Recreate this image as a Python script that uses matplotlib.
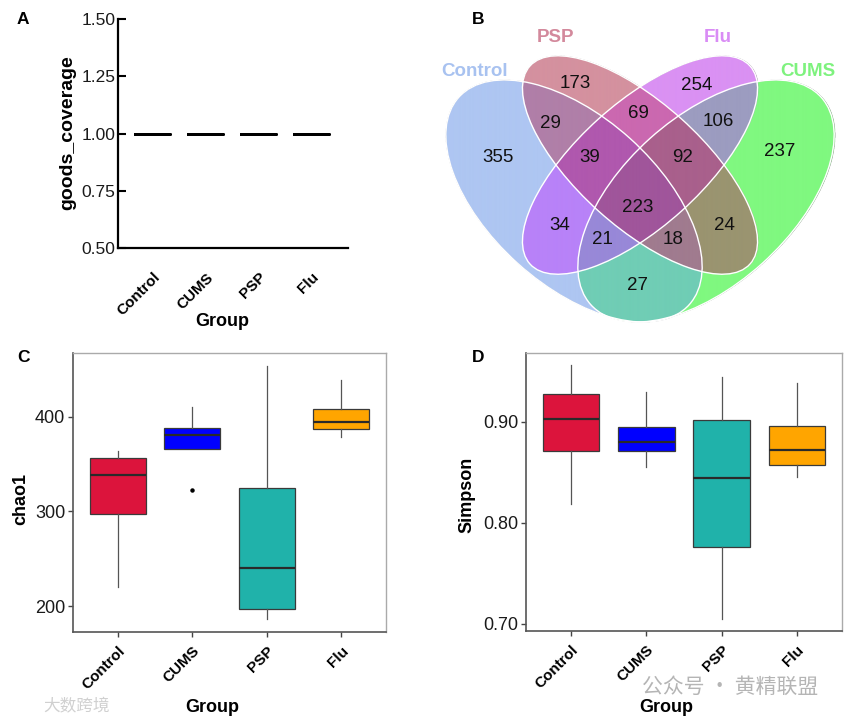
import numpy as np
import matplotlib
matplotlib.use("Agg")
import matplotlib.pyplot as plt
from matplotlib.patches import Ellipse

plt.rcParams['font.family'] = ['Liberation Sans', 'DejaVu Sans']

# ---------------- data ----------------
groups = ["Control", "CUMS", "PSP", "Flu"]
box_colors = ["#DC143C", "#0000FF", "#20B2AA", "#FFA500"]

goods_coverage = [1.0, 1.0, 1.0, 1.0]
goods_ticks = [0.50, 0.75, 1.00, 1.25, 1.50]

# chao1 box statistics (Control, CUMS, PSP, Flu)
chao1_whislo = [219.8, 365.8, 186.0, 378.8]
chao1_q1 = [297.7, 365.8, 197.2, 387.0]
chao1_med = [339.0, 381.0, 240.7, 394.4]
chao1_q3 = [356.6, 388.7, 324.5, 408.0]
chao1_whishi = [364.3, 410.9, 454.0, 439.0]
chao1_fliers = [[], [323.0], [], []]
chao1_ticks = [200, 300, 400]

# Simpson box statistics
simp_whislo = [0.819, 0.855, 0.7053, 0.8455]
simp_q1 = [0.871, 0.871, 0.776, 0.8568]
simp_med = [0.9027, 0.880, 0.844, 0.8717]
simp_q3 = [0.9274, 0.895, 0.9013, 0.896]
simp_whishi = [0.956, 0.929, 0.9445, 0.9386]
simp_fliers = [[], [], [], []]
simp_ticks = [0.70, 0.80, 0.90]

# Venn counts; keys = membership (Control, PSP, Flu, CUMS)
venn_sets = ["Control", "PSP", "Flu", "CUMS"]
venn_counts = {
    (1, 0, 0, 0): 355, (0, 1, 0, 0): 173, (0, 0, 1, 0): 254, (0, 0, 0, 1): 237,
    (1, 1, 0, 0): 29, (0, 1, 1, 0): 69, (0, 0, 1, 1): 106, (1, 0, 1, 0): 34,
    (0, 1, 0, 1): 24, (1, 0, 0, 1): 27, (1, 1, 1, 0): 39, (0, 1, 1, 1): 92,
    (1, 0, 1, 1): 21, (1, 1, 0, 1): 18, (1, 1, 1, 1): 223,
}

# ---------------- layout helpers ----------------
W, H = 851, 723
fig = plt.figure(figsize=(W / 100, H / 100), dpi=100)


def px_axes(x0, y0, x1, y1):
    return fig.add_axes([x0 / W, 1 - y1 / H, (x1 - x0) / W, (y1 - y0) / H])


def ftext(x, y, s, **kw):
    return fig.text(x / W, 1 - y / H, s, **kw)


# ---------------- Panel A ----------------
axA = px_axes(118, 19, 348, 248)
statsA = [dict(med=v, q1=v, q3=v, whislo=v, whishi=v, fliers=[]) for v in goods_coverage]
axA.bxp(statsA, positions=range(4), widths=0.66, showcaps=False, showfliers=False,
        boxprops=dict(color='black', linewidth=2),
        medianprops=dict(color='black', linewidth=2),
        whiskerprops=dict(color='black', linewidth=2))
axA.set_xlim(-0.66, 3.68)
axA.set_ylim(0.5, 1.5)
axA.set_yticks(goods_ticks)
axA.set_yticklabels([f"{t:.2f}" for t in goods_ticks], fontsize=12.5, color='#1a1a1a')
axA.set_xticks(range(4))
axA.set_xticklabels(groups, rotation=45, ha='right', va='top', rotation_mode='anchor',
                    fontsize=11, fontweight='bold')
axA.tick_params(axis='y', direction='in', length=6, width=1.5, pad=2)
axA.tick_params(axis='x', length=0, pad=16)
for s in ['top', 'right']:
    axA.spines[s].set_visible(False)
for s in ['left', 'bottom']:
    axA.spines[s].set_linewidth(1.6)
    axA.spines[s].set_color('black')
ftext(68, 133, "goods_coverage", rotation=90, ha='center', va='center', fontsize=14, fontweight='bold')
ftext(222, 322, "Group", ha='center', va='center', fontsize=13, fontweight='bold')
ftext(23, 19, "A", ha='center', va='center', fontsize=12.5, fontweight='bold')

# ---------------- Panel B (Venn) ----------------
axB = px_axes(430, 0, 851, 335)
axB.set_xlim(430, 851)
axB.set_ylim(335, 0)
axB.axis('off')

ell_params = {
    "Control": (574, 201, 155, 84, 42),
    "PSP": (640, 165, 148, 62, 42),
    "Flu": (640, 165, 148, 62, -42),
    "CUMS": (706, 201, 155, 84, -42),
}
region_colors = {
    (1, 0, 0, 0): "#aec6f2", (0, 1, 0, 0): "#d4919f", (0, 0, 1, 0): "#da91f3", (0, 0, 0, 1): "#80f880",
    (1, 1, 0, 0): "#b07fa8", (0, 1, 1, 0): "#cb68b0", (0, 0, 1, 1): "#9c9cc0", (1, 0, 1, 0): "#b882f8",
    (0, 1, 0, 1): "#9a9470", (1, 0, 0, 1): "#70cdb5", (1, 1, 1, 0): "#b058ae", (0, 1, 1, 1): "#a9608c",
    (1, 0, 1, 1): "#9888d8", (1, 1, 0, 1): "#a07b8f", (1, 1, 1, 1): "#a0559b",
}
step = 0.25
xs = np.arange(430, 851, step) + step / 2
ys = np.arange(0, 335, step) + step / 2
X, Y = np.meshgrid(xs, ys)
masks = []
for name in venn_sets:
    cx, cy, a, b, th = ell_params[name]
    t = np.deg2rad(th)
    u = (X - cx) * np.cos(t) + (Y - cy) * np.sin(t)
    v = -(X - cx) * np.sin(t) + (Y - cy) * np.cos(t)
    masks.append((u / a) ** 2 + (v / b) ** 2 <= 1)
img = np.zeros(X.shape + (4,))
for key, col in region_colors.items():
    m = np.ones(X.shape, bool)
    for k, mk in zip(key, masks):
        m &= mk if k else ~mk
    img[m] = matplotlib.colors.to_rgba(col)
axB.imshow(img, extent=(430, 851, 335, 0), origin='upper', interpolation='antialiased', zorder=1)
for name in venn_sets:
    cx, cy, a, b, th = ell_params[name]
    axB.add_patch(Ellipse((cx, cy), 2 * a, 2 * b, angle=th, fill=False,
                          edgecolor='white', linewidth=1.0, zorder=2))

label_pos = {
    (1, 0, 0, 0): (498, 157), (0, 1, 0, 0): (575, 84), (0, 0, 1, 0): (697, 85), (0, 0, 0, 1): (780, 151),
    (1, 1, 0, 0): (550, 123), (0, 1, 1, 0): (638, 114), (0, 0, 1, 1): (718, 121), (1, 0, 1, 0): (560, 225),
    (0, 1, 0, 1): (724, 225), (1, 0, 0, 1): (638, 286), (1, 1, 1, 0): (590, 157), (0, 1, 1, 1): (683, 157),
    (1, 0, 1, 1): (602, 239), (1, 1, 0, 1): (673, 239), (1, 1, 1, 1): (638, 207),
}
for key, val in venn_counts.items():
    x, y = label_pos[key]
    axB.text(x, y, str(val), ha='center', va='center', fontsize=13.5, color='#111111', zorder=3)

cat_label = {"Control": ((475, 72), "#a8c2f0"), "PSP": ((555, 37), "#d3899c"),
             "Flu": ((718, 37), "#d98cf5"), "CUMS": ((808, 72), "#7ef27e")}
for name in venn_sets:
    (x, y), col = cat_label[name]
    axB.text(x, y, name, ha='center', va='center', fontsize=13.5, fontweight='bold', color=col, zorder=3)
ftext(478, 19, "B", ha='center', va='center', fontsize=12.5, fontweight='bold')


# ---------------- Box panels ----------------
def box_panel(ax, lo, q1, med, q3, hi, fl, ticks, fmt, ylim):
    stats = [dict(med=m, q1=a, q3=b, whislo=l, whishi=h, fliers=f)
             for l, a, m, b, h, f in zip(lo, q1, med, q3, hi, fl)]
    bp = ax.bxp(stats, positions=range(4), widths=0.75, patch_artist=True, showcaps=False,
                boxprops=dict(edgecolor='#3a3a3a', linewidth=0.9),
                medianprops=dict(color='#2a2a2a', linewidth=1.6),
                whiskerprops=dict(color='#555555', linewidth=0.9),
                flierprops=dict(marker='o', markersize=2.2, markerfacecolor='black',
                                markeredgecolor='black'))
    for patch, c in zip(bp['boxes'], box_colors):
        patch.set_facecolor(c)
    ax.set_xlim(-0.6, 3.6)
    ax.set_ylim(*ylim)
    ax.set_yticks(ticks)
    ax.set_yticklabels([fmt.format(t) for t in ticks], fontsize=13, color='#1a1a1a')
    ax.set_xticks(range(4))
    ax.set_xticklabels(groups, rotation=45, ha='right', va='top', rotation_mode='anchor',
                       fontsize=11, fontweight='bold')
    ax.tick_params(axis='both', direction='out', length=3.5, width=1, color='#444444')
    ax.tick_params(axis='x', pad=5)
    ax.tick_params(axis='y', pad=2)
    for s in ['top', 'right']:
        ax.spines[s].set_color('#aaaaaa')
        ax.spines[s].set_linewidth(1.0)
    for s in ['left', 'bottom']:
        ax.spines[s].set_color('#555555')
        ax.spines[s].set_linewidth(1.2)


axC = px_axes(73, 353, 386, 632)
box_panel(axC, chao1_whislo, chao1_q1, chao1_med, chao1_q3, chao1_whishi, chao1_fliers,
          chao1_ticks, "{:d}", (172.5, 467.7))
ftext(21, 499, "chao1", rotation=90, ha='center', va='center', fontsize=13, fontweight='bold')
ftext(212, 708, "Group", ha='center', va='center', fontsize=13, fontweight='bold')
ftext(23, 358, "C", ha='center', va='center', fontsize=12.5, fontweight='bold')

axD = px_axes(526, 353, 842, 631)
box_panel(axD, simp_whislo, simp_q1, simp_med, simp_q3, simp_whishi, simp_fliers,
          simp_ticks, "{:.2f}", (0.693, 0.968))
ftext(467, 495, "Simpson", rotation=90, ha='center', va='center', fontsize=13, fontweight='bold')
ftext(666, 707, "Group", ha='center', va='center', fontsize=13, fontweight='bold')
ftext(478, 358, "D", ha='center', va='center', fontsize=12.5, fontweight='bold')

# watermarks
ftext(730, 687, "公众号 · 黄精联盟", ha='center', va='center', fontsize=15,
      color='#b5b5b5', family=['Noto Sans CJK SC', 'DejaVu Sans'], zorder=10)
ftext(77, 707, "大数跨境", ha='center', va='center', fontsize=12,
      color='#d0d0d0', family=['Noto Sans CJK SC', 'DejaVu Sans'], zorder=10)

fig.savefig("out.png", dpi=100)
